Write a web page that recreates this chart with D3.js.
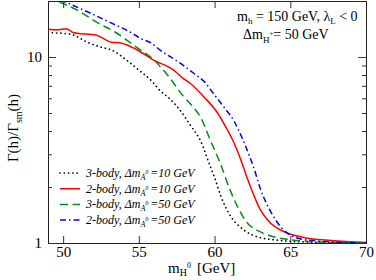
<!DOCTYPE html>
<html>
<head>
<meta charset="utf-8">
<script src="https://cdn.jsdelivr.net/npm/d3@7"></script>
<style>
  body { margin: 0; background: #fff; }
  svg text { font-family: "Liberation Serif", "Times New Roman", serif; }
</style>
</head>
<body>
<script>
// values: [m_H0 (GeV), Gamma(h)/Gamma_sm(h)]
var threeBody10 = [[49,13.5],[50,13.4],[50.7,13.1],[51.6,12.0],[52.5,11.3],[53.2,10.9],[54.2,9.6],[55,8.5],[55.8,7.5],[56.4,6.6],[57,6.0],[57.7,5.2],[58.4,4.3],[59.1,3.5],[59.7,2.6],[60,2.25],[60.4,1.8],[61,1.42],[61.9,1.18],[62.8,1.08],[64,1.04],[65,1.02],[66.5,1.01],[70,1.0]];
var twoBody10 = [[49,14.1],[49.6,14.0],[50.2,14.2],[50.7,13.5],[52.2,13.1],[53.2,12.0],[53.8,11.9],[54.9,10.9],[56,9.6],[57.3,8.5],[57.9,7.7],[58.4,7.2],[59.3,6.1],[60.2,5.0],[60.85,4.05],[61.25,3.5],[61.7,2.85],[62.1,2.3],[62.6,1.8],[63,1.52],[63.5,1.33],[64,1.22],[64.6,1.15],[65.9,1.07],[67.7,1.03],[70,1.005]];
var threeBody50 = [[49,21],[49.6,20],[50.9,17.9],[52.2,15.4],[53.5,13.5],[54.9,11.2],[55.9,9.8],[57,7.8],[57.9,6.2],[58.4,5.6],[59.1,4.7],[59.7,3.6],[60.4,2.65],[61,1.95],[61.5,1.58],[62.1,1.3],[63,1.15],[63.9,1.08],[65,1.04],[66.5,1.015],[70,1.0]];
var twoBody50 = [[49,21.7],[50,20],[51.6,17.5],[53.2,15.2],[54.5,13.5],[55.1,12.6],[55.8,11.9],[56.4,10.9],[57.7,9.3],[58.6,8.2],[59.4,7.25],[59.9,6.4],[60.6,5.4],[61.3,4.5],[61.8,3.7],[62.4,2.8],[62.7,2.38],[63,1.98],[63.4,1.65],[63.8,1.43],[64.3,1.24],[64.8,1.13],[65.5,1.06],[66.5,1.03],[68,1.01],[70,1.0]];

var xTicks = [50, 55, 60, 65, 70];
var yMajor = [1, 10];
var yMinor = [2, 3, 4, 5, 6, 7, 8, 9];

var series = [
  {name: "3-body", dm: "10", data: threeBody10, color: "#000", dash: "0.1,4.2", width: 1.7, cap: "round"},
  {name: "2-body", dm: "10", data: twoBody10, color: "#ff0000", dash: null, width: 1.5, cap: "butt"},
  {name: "3-body", dm: "50", data: threeBody50, color: "#00900e", dash: "8,4.5", width: 1.5, cap: "butt"},
  {name: "2-body", dm: "50", data: twoBody50, color: "#0000ff", dash: "6,3,1.5,3", width: 1.5, cap: "butt"}
];

var serif = "Liberation Serif, Times New Roman, serif";
var W = 376, H = 280;
var margin = {left: 48, right: 10, top: 1, bottom: 37};
var pw = W - margin.left - margin.right, ph = H - margin.top - margin.bottom;

var svg = d3.select("body").append("svg")
  .attr("width", W).attr("height", H)
  .attr("font-family", serif);

var x = d3.scaleLinear().domain([49, 70]).range([0, pw]);
var y = d3.scaleLog().domain([1, 20]).range([ph, 0]);

var g = svg.append("g")
  .attr("transform", "translate(" + margin.left + "," + margin.top + ")");

g.append("clipPath").attr("id", "clip")
  .append("rect").attr("width", pw).attr("height", ph);

var line = d3.line()
  .x(function(d) { return x(d[0]); })
  .y(function(d) { return y(d[1]); })
  .curve(d3.curveMonotoneX);

g.append("g").attr("clip-path", "url(#clip)")
  .selectAll("path")
  .data(series)
  .enter().append("path")
  .attr("d", function(d) { return line(d.data); })
  .attr("fill", "none")
  .attr("stroke", function(d) { return d.color; })
  .attr("stroke-width", function(d) { return d.width; })
  .attr("stroke-linecap", function(d) { return d.cap; })
  .attr("stroke-dasharray", function(d) { return d.dash; });

// axes, ticks pointing inward
function style(sel) {
  sel.selectAll("path").attr("stroke", "#222");
  sel.selectAll("line").attr("stroke", "#333");
  sel.selectAll("text").attr("font-family", serif).attr("font-size", 15).attr("fill", "#000");
}

g.append("g").attr("transform", "translate(0," + ph + ")")
  .call(d3.axisBottom(x).tickValues(xTicks).tickSizeInner(-7).tickSizeOuter(0).tickPadding(3))
  .call(style);
g.append("g")
  .call(d3.axisTop(x).tickValues(xTicks).tickSizeInner(-7).tickSizeOuter(0).tickFormat(""))
  .call(style);

g.append("g")
  .call(d3.axisLeft(y).tickValues(yMajor).tickSizeInner(-8).tickSizeOuter(0).tickPadding(6).tickFormat(d3.format("d")))
  .call(style);
g.append("g")
  .call(d3.axisLeft(y).tickValues(yMinor).tickSizeInner(-4).tickSizeOuter(0).tickFormat(""))
  .call(style);
g.append("g").attr("transform", "translate(" + pw + ",0)")
  .call(d3.axisRight(y).tickValues(yMajor).tickSizeInner(-8).tickSizeOuter(0).tickFormat(""))
  .call(style);
g.append("g").attr("transform", "translate(" + pw + ",0)")
  .call(d3.axisRight(y).tickValues(yMinor).tickSizeInner(-4).tickSizeOuter(0).tickFormat(""))
  .call(style);

// y label
var yl = svg.append("text")
  .attr("transform", "translate(18," + (margin.top + ph / 2 + 6) + ") rotate(-90)")
  .attr("text-anchor", "middle")
  .attr("font-size", 15);
yl.append("tspan").text("Γ(h)/Γ");
yl.append("tspan").attr("font-size", 10).attr("dy", 4).text("sm");
yl.append("tspan").attr("dy", -4).text("(h)");

// x label
var xl = svg.append("text")
  .attr("x", 168).attr("y", 273)
  .attr("font-size", 15);
xl.append("tspan").text("m");
xl.append("tspan").attr("font-size", 10).attr("dy", 3).text("H");
xl.append("tspan").attr("font-size", 8).attr("dy", -8).text("0");
xl.append("tspan").attr("dy", 5).attr("dx", 6).text("[GeV]");

// annotation
var a1 = svg.append("text").attr("x", 237).attr("y", 21).attr("font-size", 14);
a1.append("tspan").text("m");
a1.append("tspan").attr("font-size", 9).attr("dy", 3).text("h");
a1.append("tspan").attr("dy", -3).text(" = 150 GeV, λ");
a1.append("tspan").attr("font-size", 9).attr("dy", 3).text("L");
a1.append("tspan").attr("dy", -3).text(" < 0");

var a2 = svg.append("text").attr("x", 243).attr("y", 39).attr("font-size", 14);
a2.append("tspan").text("Δm");
a2.append("tspan").attr("font-size", 9).attr("dy", 4).text("H");
a2.append("tspan").attr("font-size", 7).attr("dy", -7).text("+");
a2.append("tspan").attr("dy", 3).text("=  50 GeV");

// legend
var leg = svg.append("g").attr("transform", "translate(59,173)");
var rows = leg.selectAll("g").data(series).enter().append("g")
  .attr("transform", function(d, i) { return "translate(0," + (i * 15.7) + ")"; });
rows.append("line")
  .attr("x1", 1).attr("x2", 21).attr("y1", 0).attr("y2", 0)
  .attr("stroke", function(d) { return d.color; })
  .attr("stroke-width", function(d) { return d.width; })
  .attr("stroke-linecap", function(d) { return d.cap; })
  .attr("stroke-dasharray", function(d) { return d.dash; });
var lt = rows.append("text")
  .attr("x", 27).attr("y", 4)
  .attr("font-family", serif)
  .attr("font-size", 12).attr("font-style", "italic");
lt.append("tspan").text(function(d) { return d.name + ", Δm"; });
lt.append("tspan").attr("font-size", 8).attr("dy", 3).text("A");
lt.append("tspan").attr("font-size", 6).attr("dy", -6).text("0");
lt.append("tspan").attr("dy", 3).attr("dx", 2).text(function(d) { return "=" + d.dm + " GeV"; });
</script>
</body>
</html>
